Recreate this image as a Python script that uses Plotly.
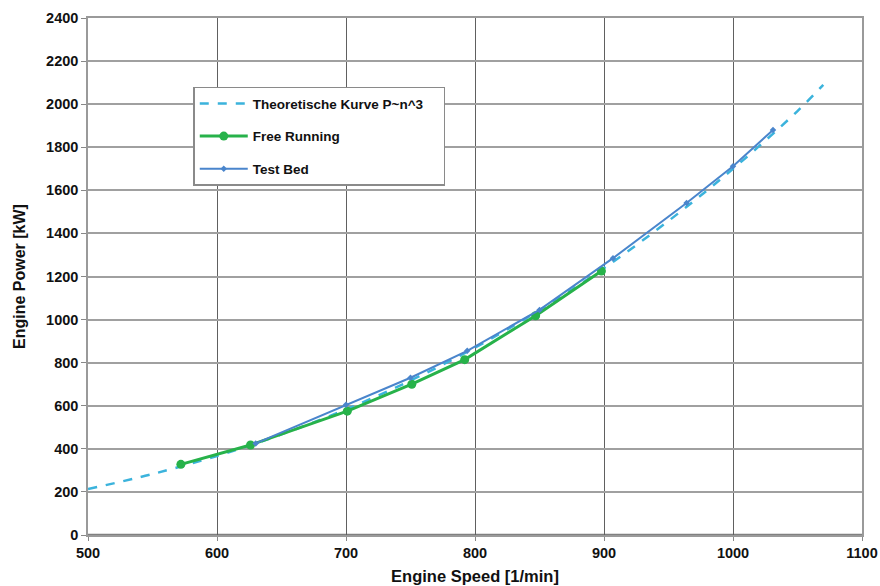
import plotly.graph_objects as go

# Theoretical curve P~n^3
theo_speed = [500, 550, 600, 650, 700, 750, 800, 850, 900, 950, 1000, 1050, 1070]
theo_power = [213, 283, 367, 467, 583, 717, 870, 1044, 1239, 1458, 1700, 1968, 2090]

# Free Running
free_speed = [572, 626, 701, 751, 792, 847, 898]
free_power = [328, 418, 575, 700, 814, 1018, 1225]

# Test Bed
test_speed = [630, 700, 750, 794, 850, 907, 964, 1000, 1031]
test_power = [425, 605, 730, 855, 1045, 1285, 1541, 1712, 1880]

x_ticks = [500, 600, 700, 800, 900, 1000, 1100]
y_ticks = list(range(0, 2401, 200))

FONT = "Liberation Sans, Arial, sans-serif"
PAD = "\u00a0" * 4

fig = go.Figure()
fig.add_trace(go.Scatter(
    x=theo_speed, y=theo_power, mode="lines", name="Theoretische Kurve P~n^3" + PAD,
    line=dict(color="#3bb3dc", width=2.5, dash="dash", shape="spline"),
    legendgroup="a"))
fig.add_trace(go.Scatter(
    x=free_speed, y=free_power, mode="lines+markers", name="Free Running",
    line=dict(color="#27b24a", width=3),
    marker=dict(color="#27b24a", size=9, symbol="circle"),
    legendgroup="b"))
fig.add_trace(go.Scatter(
    x=test_speed, y=test_power, mode="lines+markers", name="Test Bed",
    line=dict(color="#4a85cc", width=2),
    marker=dict(color="#4a85cc", size=5, symbol="diamond"),
    legendgroup="c"))

fig.update_layout(
    width=880, height=586,
    margin=dict(l=88, r=18, t=18, b=51),
    paper_bgcolor="white", plot_bgcolor="white",
    font=dict(family=FONT, size=14, color="#111"),
    showlegend=True,
    legend=dict(
        x=0.136, y=0.867, xanchor="left", yanchor="top",
        bgcolor="white", bordercolor="#8a8a8a", borderwidth=1.5,
        font=dict(family=FONT, size=13.5, color="#111", weight="bold"),
        tracegroupgap=12, itemwidth=48,
    ),
    xaxis=dict(
        range=[500, 1100], tickvals=x_ticks, ticktext=[str(v) for v in x_ticks],
        showgrid=True, gridcolor="#606060", gridwidth=1.3,
        zeroline=False, showline=True, linecolor="#9a9a9a", linewidth=1.5, mirror=True,
        ticks="outside", ticklen=4, tickcolor="#888", automargin=False,
        tickfont=dict(family=FONT, size=14.5, weight="bold"),
        title=dict(text="Engine Speed [1/min]", standoff=10,
                   font=dict(family=FONT, size=16.5, weight="bold")),
    ),
    yaxis=dict(
        range=[0, 2400], tickvals=y_ticks, ticktext=[str(v) for v in y_ticks],
        showgrid=True, gridcolor="#a0a0a0", gridwidth=1.5,
        zeroline=False, showline=True, linecolor="#9a9a9a", linewidth=1.5, mirror=True,
        ticks="outside", ticklen=5, tickcolor="#888", automargin=False,
        tickfont=dict(family=FONT, size=14.5, weight="bold"),
        title=dict(text="Engine Power [kW]", standoff=16,
                   font=dict(family=FONT, size=16, weight="bold")),
    ),
)
# darker baseline at 0
fig.add_hline(y=0, line=dict(color="#808080", width=2.5), layer="below")

fig.write_html(
    "out.html",
    config={"displayModeBar": False},
    post_script="document.body.style.margin='0';document.body.style.overflow='hidden';",
)
